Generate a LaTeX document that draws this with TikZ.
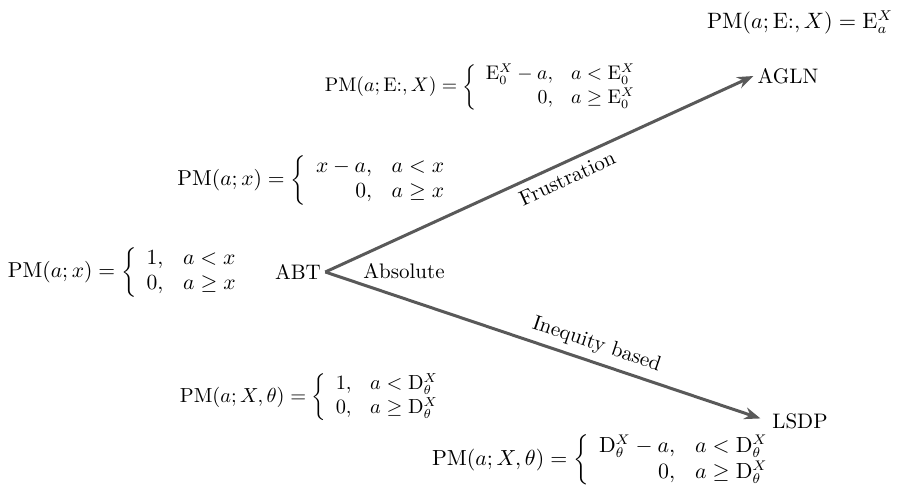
\documentclass[tikz,border=0pt]{standalone}
\usepackage{amsmath,amssymb}
\usetikzlibrary{arrows.meta}
\definecolor{linegray}{HTML}{595959}
\newcommand{\pmcases}[2]{\left\{\begin{array}{r@{\hspace{10pt}}l@{}}#1\\ #2\end{array}\right.}
\begin{document}
\begin{tikzpicture}[x=0.5pt,y=-0.5pt,
  every node/.style={font=\fontsize{10.5}{13}\selectfont},
  lbl/.style={inner sep=2pt},
  formula/.style={inner sep=0pt},
  branch/.style={draw=linegray,line width=1.5pt,-{Stealth[length=8pt,width=6pt]}},
  edgelabel/.style={sloped}]
\useasboundingbox (0,0) rectangle (900,497);
\node[lbl] (abt) at (298,272) {ABT};
\node[lbl] (agln) at (788,76) {AGLN};
\node[lbl] (lsdp) at (800,421) {LSDP};
\node[lbl,anchor=west] (absolute) at (359,271) {Absolute};
\node[formula] (ftop) at (800,22) {\resizebox{93pt}{!}{$\mathrm{PM}(a;\mathrm{E}{:},X)=\mathrm{E}^X_a$}};
\node[formula] (fagln) at (481,87) {\resizebox{156pt}{!}{$\mathrm{PM}(a;\mathrm{E}{:},X)=\pmcases{\mathrm{E}^X_0-a, & a<\mathrm{E}^X_0}{0, & a\geq\mathrm{E}^X_0}$}};
\node[formula] (ffru) at (312,180) {\resizebox{134.5pt}{!}{$\mathrm{PM}(a;x)=\pmcases{x-a, & a<x}{0, & a\geq x}$}};
\node[formula] (fabt) at (123,272) {\resizebox{115pt}{!}{$\mathrm{PM}(a;x)=\pmcases{1, & a<x}{0, & a\geq x}$}};
\node[formula] (fineq) at (310,397) {\resizebox{130pt}{!}{$\mathrm{PM}(a;X,\theta)=\pmcases{1, & a<\mathrm{D}^X_\theta}{0, & a\geq\mathrm{D}^X_\theta}$}};
\node[formula] (flsdp) at (601,460) {\resizebox{169pt}{!}{$\mathrm{PM}(a;X,\theta)=\pmcases{\mathrm{D}^X_\theta-a, & a<\mathrm{D}^X_\theta}{0, & a\geq\mathrm{D}^X_\theta}$}};
\draw[branch] (abt.east) -- node[edgelabel,below,pos=0.55] {Frustration} (agln.west);
\draw[branch,shorten >=4pt] (abt.east) -- node[edgelabel,above,pos=0.6] {Inequity based} (lsdp.west);
\end{tikzpicture}
\end{document}
